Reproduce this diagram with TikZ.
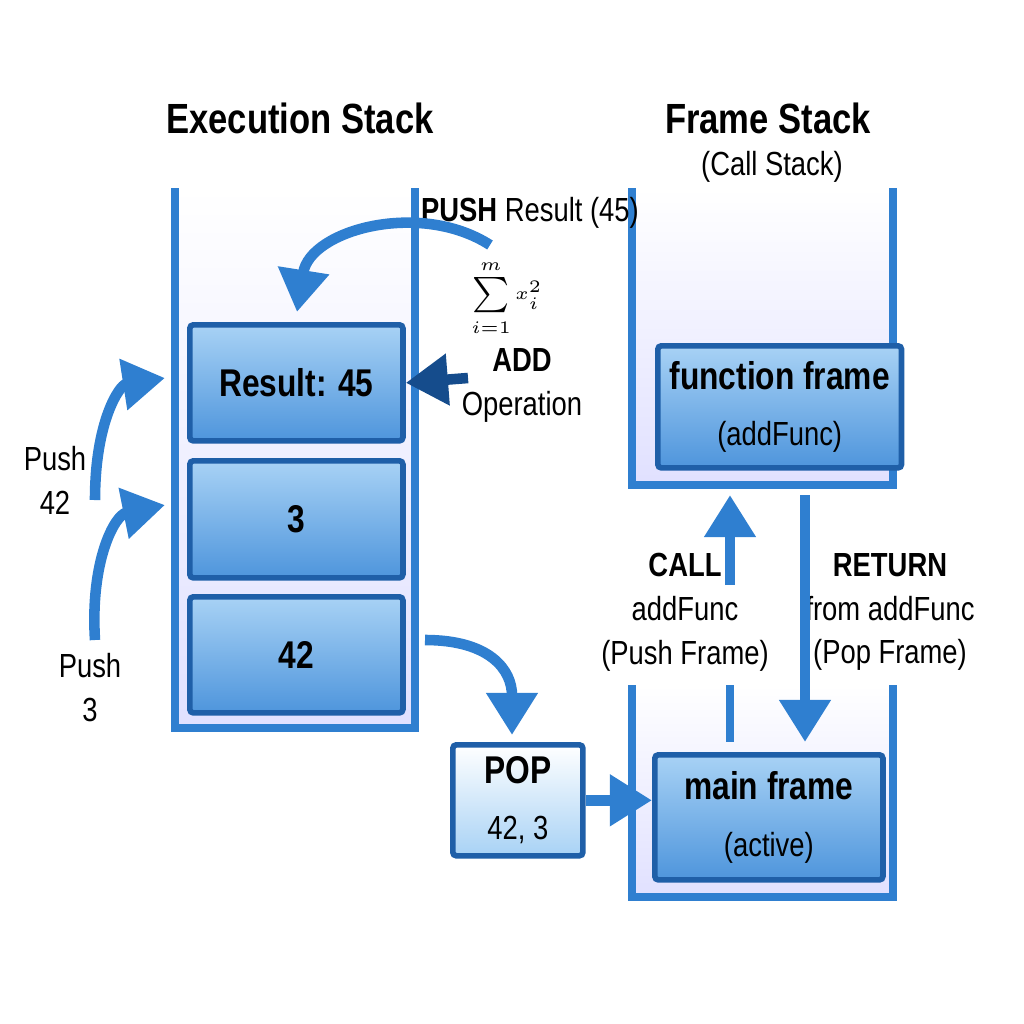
\documentclass[tikz,border=0pt]{standalone}
\usepackage{fontspec}
\setmainfont[FakeStretch=0.82]{Liberation Sans}
\usetikzlibrary{arrows.meta}
\definecolor{wallblue}{HTML}{2F7FD0}
\definecolor{edgeblue}{HTML}{1F5FA8}
\definecolor{boxtop}{HTML}{A8D2F5}
\definecolor{boxbot}{HTML}{4E95DC}
\definecolor{darkarrow}{HTML}{154C8C}
\begin{document}
\begin{tikzpicture}[yscale=-1,x=0.01cm,y=0.01cm,
 title/.style ={font=\bfseries\fontsize{12}{15}\selectfont},
 slot/.style ={rectangle, draw=edgeblue, line width=1.6pt, top color=boxtop, bottom color=boxbot, rounded corners=1pt, font=\bfseries\fontsize{11}{13}\selectfont, align=center, anchor=north west},
 lbl/.style ={font=\fontsize{9.5}{12.5}\selectfont, align=center},
 wall/.style ={draw=wallblue, line width=2.2pt, top color=white, bottom color=blue!12},
 line/.style ={draw=wallblue, line width=3pt, -{Triangle[length=12pt,width=14pt]}}]

\useasboundingbox (0,0) rectangle (1024,1024);

% containers
\draw[wall] (175,188) -- (175,728) -- (415,728) -- (415,188);
\draw[wall] (632,188) -- (632,485) -- (893,485) -- (893,188);
\draw[wall] (632,685) -- (632,897) -- (893,897) -- (893,685);

\draw (300,118) node[title] (tExec) {Execution Stack};
\draw (768,118) node[title] (tFrame) {Frame Stack};
\draw (772,167) node[lbl] (tCall) {(Call Stack)};

\draw (187,322) node[slot, minimum width=2.13cm, minimum height=1.16cm] (Res) {Result: 45};
\draw (187,458) node[slot, minimum width=2.13cm, minimum height=1.17cm] (S3) {3};
\draw (187,594) node[slot, minimum width=2.13cm, minimum height=1.16cm] (S42) {42};

\draw (655,343) node[slot, minimum width=2.27cm, minimum height=1.22cm] (Func) {function frame\\[3pt]{\normalfont\fontsize{9.5}{12}\selectfont (addFunc)}};
\draw (652,752) node[slot, minimum width=2.28cm, minimum height=1.25cm] (Main) {main frame\\[3pt]{\normalfont\fontsize{9.5}{12}\selectfont (active)}};
\draw (450,742) node[slot, top color=white, bottom color=boxtop, minimum width=1.3cm, minimum height=1.06cm] (Pop) {POP\\[3pt]{\normalfont\fontsize{9.5}{12}\selectfont 42, 3}};

% labels
\draw (55,480) node[lbl] (LPush42) {Push\\42};
\draw (90,688) node[lbl] (LPush3) {Push\\3};
\draw (530,213) node[lbl] (LPushRes) {\textbf{PUSH} Result (45)};
\draw (507,298) node[lbl, inner sep=0pt, font=\fontsize{5}{6}\selectfont] (LSum) {$\sum\limits_{i=1}^{m} x_i^2$};
\draw (522,385) node[lbl] (LAdd) {\textbf{ADD}\\Operation};
\draw (685,612) node[lbl] (LCall) {\textbf{CALL}\\addFunc\\(Push Frame)};
\draw (890,612) node[lbl] (LRet) {\textbf{RETURN}\\from addFunc\\(Pop Frame)};

\coordinate (p42) at (95,500);
\coordinate (p3) at (95,640);
\coordinate (sumR) at (490,245);
\coordinate (addL) at (468,378);
\coordinate (out42) at (425,640);
\coordinate (callB) at (730,585);
\coordinate (callC) at (730,685);
\coordinate (callD) at (730,742);
\coordinate (retT) at (805,495);

% arrows
\draw[line] (p42) .. controls (95,420) and (120,385) .. (165,378);
\draw[line] (p3) .. controls (90,560) and (115,515) .. (165,505);
\draw[line] (sumR) .. controls (420,200) and (310,230) .. (297,312);
\draw[draw=darkarrow, line width=3pt, -{Triangle[length=12pt,width=14pt]}] (addL) -- (Res.east);
\draw[line] (out42) .. controls (490,640) and (512,670) .. (512,735);
\draw[line] (Pop.east) -- (Pop.east -| Main.west);
\draw[line] (callB) -- (730,495);
\draw[draw=wallblue, line width=2pt] (callC) -- (callD);
\draw[line] (retT) -- (805,742);

\end{tikzpicture}
\end{document}
